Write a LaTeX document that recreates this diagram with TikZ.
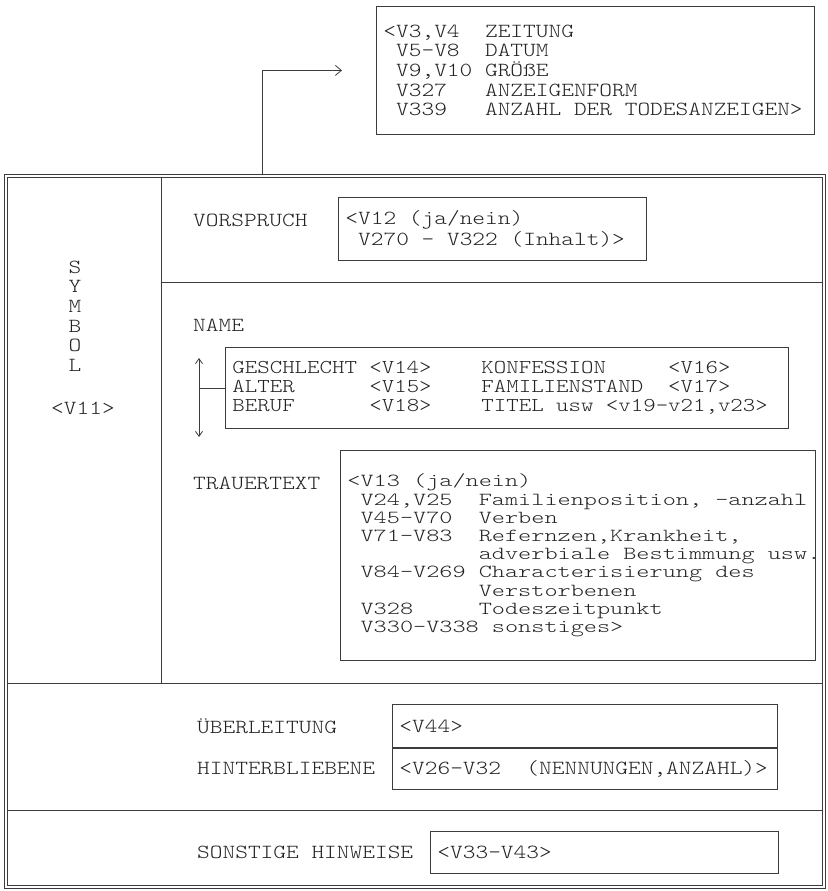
\documentclass[tikz,border=0pt]{standalone}
\usepackage{fontspec}
\newfontfamily\schreib{lmmonolt10-regular.otf}[FakeStretch=1.21]
\newfontfamily\schreibbreit{lmmonolt10-regular.otf}[FakeStretch=1.36]
\newcommand{\lz}{\hphantom{0}}% ein leerzeichen, so breit wie ein zeichen
\usetikzlibrary{arrows.meta}
\definecolor{ink}{RGB}{35,35,35}
\definecolor{linie}{RGB}{60,60,60}
\tikzset{
  feld/.style={draw=linie, line width=0.9pt, anchor=north west,
    inner xsep=7pt, inner ysep=0pt, align=left, text=ink,
    font=\schreib\fontsize{20}{19.6}\selectfont},
  etikett/.style={anchor=west, inner sep=0pt, text=ink,
    font=\schreib\fontsize{20}{19.6}\selectfont},
  rahmenln/.style={draw=linie, line width=0.7pt},
  trennln/.style={draw=linie, line width=0.9pt},
  pfeil/.style={-{Straight Barb[length=6pt,width=10pt]}, line width=0.8pt, draw=linie},
  doppelpfeil/.style={{Straight Barb[length=5pt,width=7pt]}-{Straight Barb[length=5pt,width=7pt]},
    line width=0.8pt, draw=linie},
}

\begin{document}
\begin{tikzpicture}[x=1pt, y=-1pt]
    \useasboundingbox (0,0) rectangle (827,891);

    % kopfdaten oben
    \node[feld, text width=424pt, minimum height=128pt] (kopf) at (376,6)
      {<V3,V4\lz\lz ZEITUNG\\
       \lz V5-V8\lz\lz DATUM\\
       \lz V9,V10\lz GRÖßE\\
       \lz V327\lz\lz\lz ANZEIGENFORM\\
       \lz V339\lz\lz\lz ANZAHL\lz DER\lz TODESANZEIGEN>};

    % rahmen (doppelt) und trennlinien
    \draw[rahmenln] (4,174) rectangle (825,888);
    \draw[rahmenln] (7,177) rectangle (822,885);
    \draw[trennln] (161,177) -- (161,683);
    \draw[trennln] (161,282) -- (822,282);
    \draw[trennln] (7,683) -- (822,683);
    \draw[trennln] (7,810) -- (822,810);

    \coordinate (abzweig) at (262,174);
    \draw[pfeil] (abzweig) |- ([xshift=-34pt]kopf.west);

    % symbolspalte
    \node[etikett, anchor=center, align=center] (symbol) at (75,316)
      {S\\Y\\M\\B\\O\\L};
    \node[etikett, anchor=center] (v11) at (83,408) {<V11>};

    % vorspruch
    \node[etikett] (vorspruch) at (193,220) {VORSPRUCH};
    \node[feld, text width=294pt, minimum height=63pt,
      font=\schreib\fontsize{20}{21}\selectfont] (vbox) at (338,197)
      {<V12\lz(ja/nein)\\
       \lz V270\lz-\lz V322\lz(Inhalt)>};

    % name
    \node[etikett] (name) at (193,325) {NAME};
    \node[feld, text width=549pt, minimum height=81pt,
      font=\schreib\fontsize{19.6}{19}\selectfont] (nbox) at (225,347)
      {GESCHLECHT\lz<V14>\lz\lz\lz\lz KONFESSION\lz\lz\lz\lz\lz<V16>\\
       ALTER\lz\lz\lz\lz\lz\lz<V15>\lz\lz\lz\lz FAMILIENSTAND\lz\lz<V17>\\
       BERUF\lz\lz\lz\lz\lz\lz<V18>\lz\lz\lz\lz TITEL\lz usw\lz<v19-v21,v23>};
    \coordinate (noben) at (199,358);
    \coordinate (nunten) at (199,437);
    \draw[doppelpfeil] (noben) -- (nunten);
    \draw[trennln, line width=0.8pt] (nbox.west) -- (nbox.west -| noben);

    % trauertext
    \node[etikett] (trauertext) at (193,483) {TRAUERTEXT};
    \node[feld, text width=461pt, minimum height=210pt,
      font=\schreibbreit\fontsize{18.4}{18.2}\selectfont] (tbox) at (340,450)
      {<V13\lz(ja/nein)\\
       \lz V24,V25\lz\lz Familienposition,\lz-anzahl\\
       \lz V45-V70\lz\lz Verben\\
       \lz V71-V83\lz\lz Refernzen,Krankheit,\\
       \lz\lz\lz\lz\lz\lz\lz\lz\lz\lz adverbiale\lz Bestimmung\lz usw.\\
       \lz V84-V269\lz Characterisierung\lz des\\
       \lz\lz\lz\lz\lz\lz\lz\lz\lz\lz Verstorbenen\\
       \lz V328\lz\lz\lz\lz\lz Todeszeitpunkt\\
       \lz V330-V338\lz sonstiges>};

    % ueberleitung, hinterbliebene
    \node[etikett] (ueberleitung) at (197,726) {ÜBERLEITUNG};
    \node[feld, text width=371pt, minimum height=43pt] (ubox) at (392,704) {<V44>};
    \node[etikett] (hinterbliebene) at (197,768) {HINTERBLIEBENE};
    \node[feld, text width=371pt, minimum height=41pt] (hbox) at (ubox.south west)
      {<V26-V32\lz\lz(NENNUNGEN,ANZAHL)>};

    % sonstige hinweise
    \node[etikett] (hinweise) at (197,852) {SONSTIGE\lz HINWEISE};
    \node[feld, text width=334pt, minimum height=42pt] (sbox) at (430,831) {<V33-V43>};
\end{tikzpicture}
\end{document}
